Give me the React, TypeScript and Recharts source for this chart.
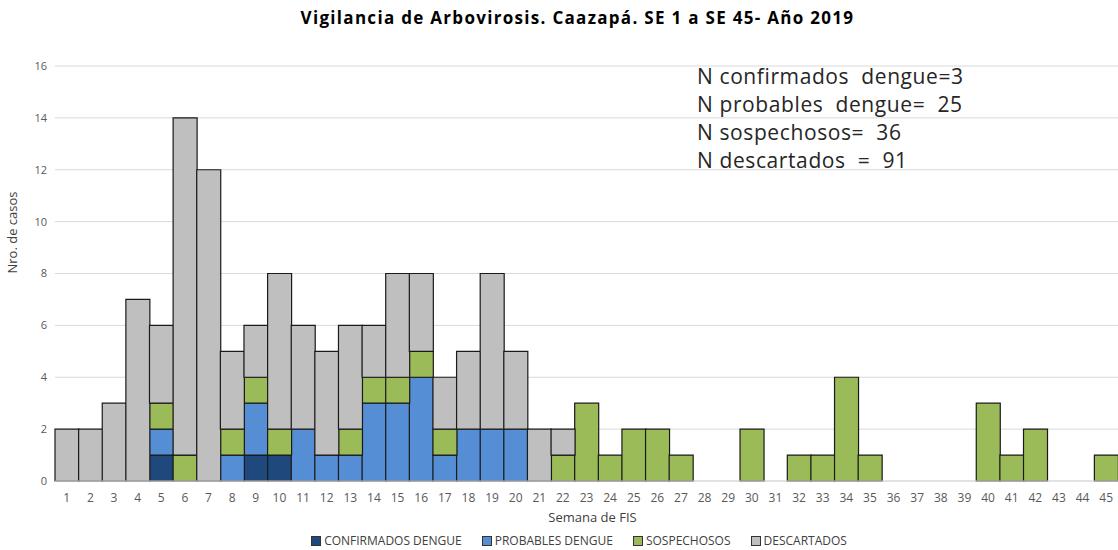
import { BarChart, Bar, XAxis, YAxis, CartesianGrid, Legend } from 'recharts'

const weeks = Array.from({ length: 45 }, (_, i) => String(i + 1))

// casos por semana epidemiológica, SE 1 a SE 45
const confirmados = [0, 0, 0, 0, 1, 0, 0, 0, 1, 1, 0, 0, 0, 0, 0, 0, 0, 0, 0, 0, 0, 0, 0, 0, 0, 0, 0, 0, 0, 0, 0, 0, 0, 0, 0, 0, 0, 0, 0, 0, 0, 0, 0, 0, 0]
const probables = [0, 0, 0, 0, 1, 0, 0, 1, 2, 0, 2, 1, 1, 3, 3, 4, 1, 2, 2, 2, 0, 0, 0, 0, 0, 0, 0, 0, 0, 0, 0, 0, 0, 0, 0, 0, 0, 0, 0, 0, 0, 0, 0, 0, 0]
const sospechosos = [0, 0, 0, 0, 1, 1, 0, 1, 1, 1, 0, 0, 1, 1, 1, 1, 1, 0, 0, 0, 0, 1, 3, 1, 2, 2, 1, 0, 0, 2, 0, 1, 1, 4, 1, 0, 0, 0, 0, 3, 1, 2, 0, 0, 1]
const descartados = [2, 2, 3, 7, 3, 13, 12, 3, 2, 6, 4, 4, 4, 2, 4, 3, 2, 3, 6, 3, 2, 1, 0, 0, 0, 0, 0, 0, 0, 0, 0, 0, 0, 0, 0, 0, 0, 0, 0, 0, 0, 0, 0, 0, 0]

const yTicks = [0, 2, 4, 6, 8, 10, 12, 14, 16]

const summary = [
  'N confirmados  dengue=3',
  'N probables  dengue=  25',
  'N sospechosos=  36',
  'N descartados  =  91',
]

const series = [
  { key: 'confirmados', name: 'CONFIRMADOS DENGUE', color: '#1f497d' },
  { key: 'probables', name: 'PROBABLES DENGUE', color: '#558ed5' },
  { key: 'sospechosos', name: 'SOSPECHOSOS', color: '#9bbb59' },
  { key: 'descartados', name: 'DESCARTADOS', color: '#bfbfbf' },
]

const data = weeks.map((w, i) => ({
  week: w,
  confirmados: confirmados[i],
  probables: probables[i],
  sospechosos: sospechosos[i],
  descartados: descartados[i],
}))

const FONT = '"Open Sans", "DejaVu Sans", sans-serif'

function LegendContent() {
  return (
    <div style={{ display: 'flex', justifyContent: 'center', gap: 20, fontFamily: FONT, fontSize: 12, color: '#404040' }}>
      {series.map(s => (
        <div key={s.key} style={{ display: 'flex', alignItems: 'center', gap: 3 }}>
          <span style={{ width: 8, height: 8, background: s.color, border: '1px solid #333', display: 'inline-block' }} />
          <span>{s.name}</span>
        </div>
      ))}
    </div>
  )
}

export default function App() {
  return (
    <div style={{ position: 'absolute', left: 0, top: 0, width: 1118, height: 550, background: '#fff', fontFamily: FONT }}>
      <div style={{ position: 'absolute', top: 6, left: 0, width: 1155, textAlign: 'center', fontSize: 17, fontWeight: 700, letterSpacing: 1.3, color: '#000' }}>
        Vigilancia de Arbovirosis. Caazapá. SE 1 a SE 45- Año 2019
      </div>
      <BarChart width={1118} height={550} data={data} barCategoryGap={0} margin={{ top: 66, right: 0, left: 0, bottom: 0 }}>
        <CartesianGrid vertical={false} stroke="#d9d9d9" />
        <XAxis
          dataKey="week"
          height={69}
          interval={0}
          tickLine={false}
          axisLine={{ stroke: '#d9d9d9' }}
          tick={{ fontSize: 12, fill: '#595959' }}
          tickMargin={6}
          label={{ value: 'Semana de FIS', position: 'insideTop', offset: 32, fontSize: 13, fill: '#404040', dx: 6 }}
        />
        <YAxis
          width={55}
          domain={[0, 16]}
          ticks={yTicks}
          axisLine={false}
          tickLine={false}
          tick={{ fontSize: 11, fill: '#595959' }}
          label={{ value: 'Nro. de casos', angle: -90, position: 'insideLeft', offset: 12, fontSize: 13, fill: '#404040' }}
        />
        <Legend verticalAlign="middle" layout="horizontal" content={<LegendContent />} wrapperStyle={{ top: 532, left: 0, width: 1158 }} />
        {series.map(s => (
          <Bar key={s.key} dataKey={s.key} name={s.name} stackId="a" fill={s.color} stroke="#1a1a1a" strokeWidth={1.2} isAnimationActive={false} />
        ))}
      </BarChart>
      <div style={{ position: 'absolute', left: 697, top: 62, fontSize: 21, lineHeight: '28px', letterSpacing: 0.6, color: '#262626', whiteSpace: 'pre' }}>
        {summary.map(t => (
          <div key={t}>{t}</div>
        ))}
      </div>
    </div>
  )
}
